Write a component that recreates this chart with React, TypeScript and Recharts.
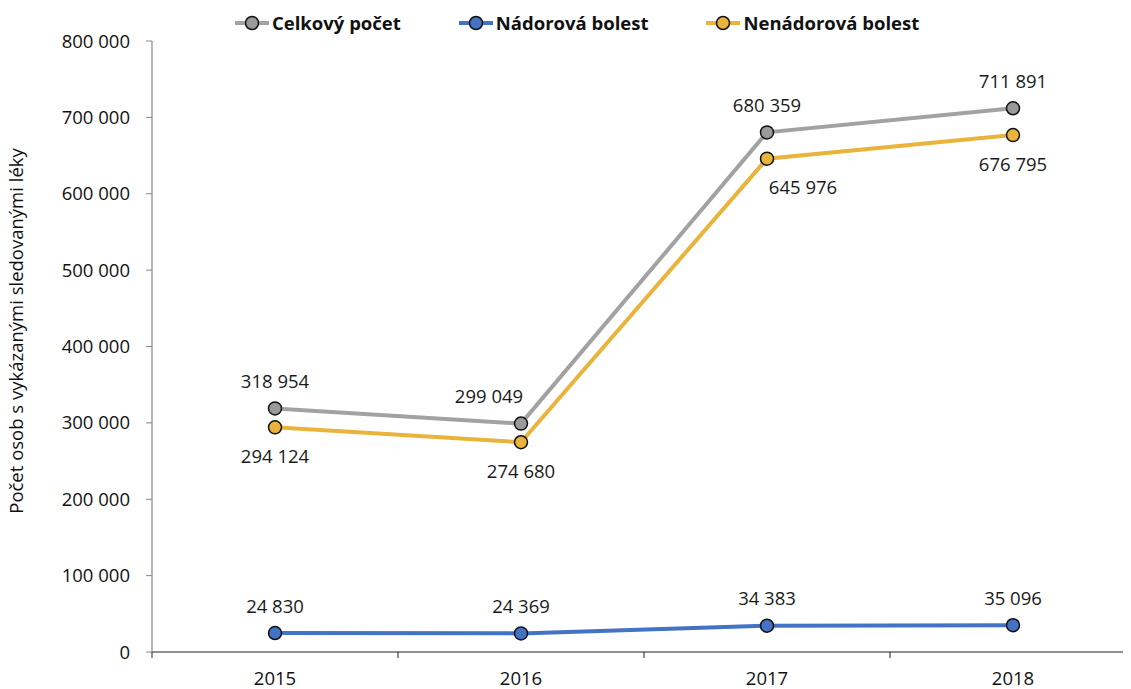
import { type FC } from "react";
import { LineChart, Line, XAxis, YAxis, LabelList } from "recharts";

const years = ["2015", "2016", "2017", "2018"];
const celkovy = [318954, 299049, 680359, 711891];
const nadorova = [24830, 24369, 34383, 35096];
const nenadorova = [294124, 274680, 645976, 676795];
const yTicks = [0, 100000, 200000, 300000, 400000, 500000, 600000, 700000, 800000];
// category i sits in the middle of band [i, i+1]; ticks at band edges and centres
const xTicks = [0, 0.5, 1, 1.5, 2, 2.5, 3, 3.5, 4];
const yTitle = "Počet osob s vykázanými sledovanými léky";

const FONT = "'Open Sans', sans-serif";

const data = years.map((year, i) => ({
  x: i + 0.5,
  year,
  celkovy: celkovy[i],
  nadorova: nadorova[i],
  nenadorova: nenadorova[i],
}));

const series = [
  { key: "celkovy", name: "Celkový počet", color: "#A2A2A2", dot: "#9A9A9A", pos: "above" },
  { key: "nadorova", name: "Nádorová bolest", color: "#4472C4", dot: "#4472C4", pos: "above" },
  { key: "nenadorova", name: "Nenádorová bolest", color: "#E9B33C", dot: "#E9B33C", pos: "below" },
];

// cz thousands separator
const fmt = (v: number) => v.toString().replace(/\B(?=(\d{3})+(?!\d))/g, " ");

const makeLabel = (key: string, pos: string) => (props: any) => {
  const { x, y, value, index } = props;
  let dx = 0;
  if (key === "celkovy" && index === 1) dx = -32;
  if (key === "nenadorova" && index === 2) dx = 36;
  const dy = pos === "above" ? -27 : 29;
  return (
    <text
      x={x + dx}
      y={y + dy}
      dy="0.35em"
      textAnchor="middle"
      fill="#1a1a1a"
      fontSize={18.5}
      fontFamily={FONT}
    >
      {fmt(value)}
    </text>
  );
};

const TICK_SIZE = 6;
const TICK_MARGIN = 20;

const XTick = (props: any) => {
  const { x, y, payload } = props;
  const v = payload.value as number;
  const axisY = y - TICK_MARGIN;
  if (Number.isInteger(v)) {
    return <line x1={x} y1={axisY} x2={x} y2={axisY + TICK_SIZE} stroke="#222" strokeWidth={1} />;
  }
  return (
    <text x={x} y={y} dy="0.71em" textAnchor="middle" fill="#111" fontSize={18.5} fontFamily={FONT}>
      {years[Math.floor(v)]}
    </text>
  );
};

const LegendRow: FC = () => (
  <div
    style={{
      position: "absolute",
      top: 10,
      left: 235,
      display: "flex",
      fontFamily: FONT,
      fontWeight: 700,
      fontSize: 18.5,
      color: "#111",
    }}
  >
    {series.map((s) => (
      <div key={s.key} style={{ display: "flex", alignItems: "center", marginRight: 58 }}>
        <svg width={34} height={24}>
          <line x1={0} y1={12} x2={34} y2={12} stroke={s.color} strokeWidth={4} />
          <circle cx={17} cy={12} r={6.5} fill={s.dot} stroke="#111" strokeWidth={1.5} />
        </svg>
        <span style={{ marginLeft: 3 }}>{s.name}</span>
      </div>
    ))}
  </div>
);

const App: FC = () => {
  return (
    <div
      style={{
        position: "relative",
        width: 1131,
        height: 689,
        marginLeft: -8,
        marginTop: -8,
        overflow: "hidden",
        background: "#fff",
      }}
    >
      {/* plot runs a bit past the right edge, as in the original crop */}
      <LineChart
        width={1136}
        height={689}
        data={data}
        margin={{ top: 41, right: 0, bottom: 0, left: 0 }}
      >
        <XAxis
          type="number"
          dataKey="x"
          domain={[0, 4]}
          ticks={xTicks}
          interval={0}
          height={37}
          axisLine={{ stroke: "#222", strokeWidth: 1.2 }}
          tickLine={false}
          tickSize={TICK_SIZE}
          tickMargin={TICK_MARGIN - TICK_SIZE}
          tick={XTick}
        />
        <YAxis
          width={152}
          domain={[0, 800000]}
          ticks={yTicks}
          interval={0}
          tickFormatter={fmt}
          axisLine={{ stroke: "#868686", strokeWidth: 1.2 }}
          tickLine={{ stroke: "#868686", strokeWidth: 1 }}
          tickSize={TICK_SIZE}
          tickMargin={16}
          tick={{ fill: "#111", fontSize: 18.5, fontFamily: FONT }}
        />
        {series.map((s) => (
          <Line
            key={s.key}
            type="linear"
            dataKey={s.key}
            name={s.name}
            stroke={s.color}
            strokeWidth={4}
            dot={{ r: 6.5, fill: s.dot, stroke: "#111", strokeWidth: 1.5 }}
            isAnimationActive={false}
          >
            <LabelList dataKey={s.key} content={makeLabel(s.key, s.pos)} />
          </Line>
        ))}
      </LineChart>
      <svg
        width={40}
        height={689}
        style={{ position: "absolute", left: 0, top: 0 }}
      >
        <text
          x={23}
          y={331}
          transform="rotate(-90, 23, 331)"
          textAnchor="middle"
          fontSize={18.5}
          fontFamily={FONT}
          fill="#111"
        >
          {yTitle}
        </text>
      </svg>
      <LegendRow />
    </div>
  );
};

export default App;
